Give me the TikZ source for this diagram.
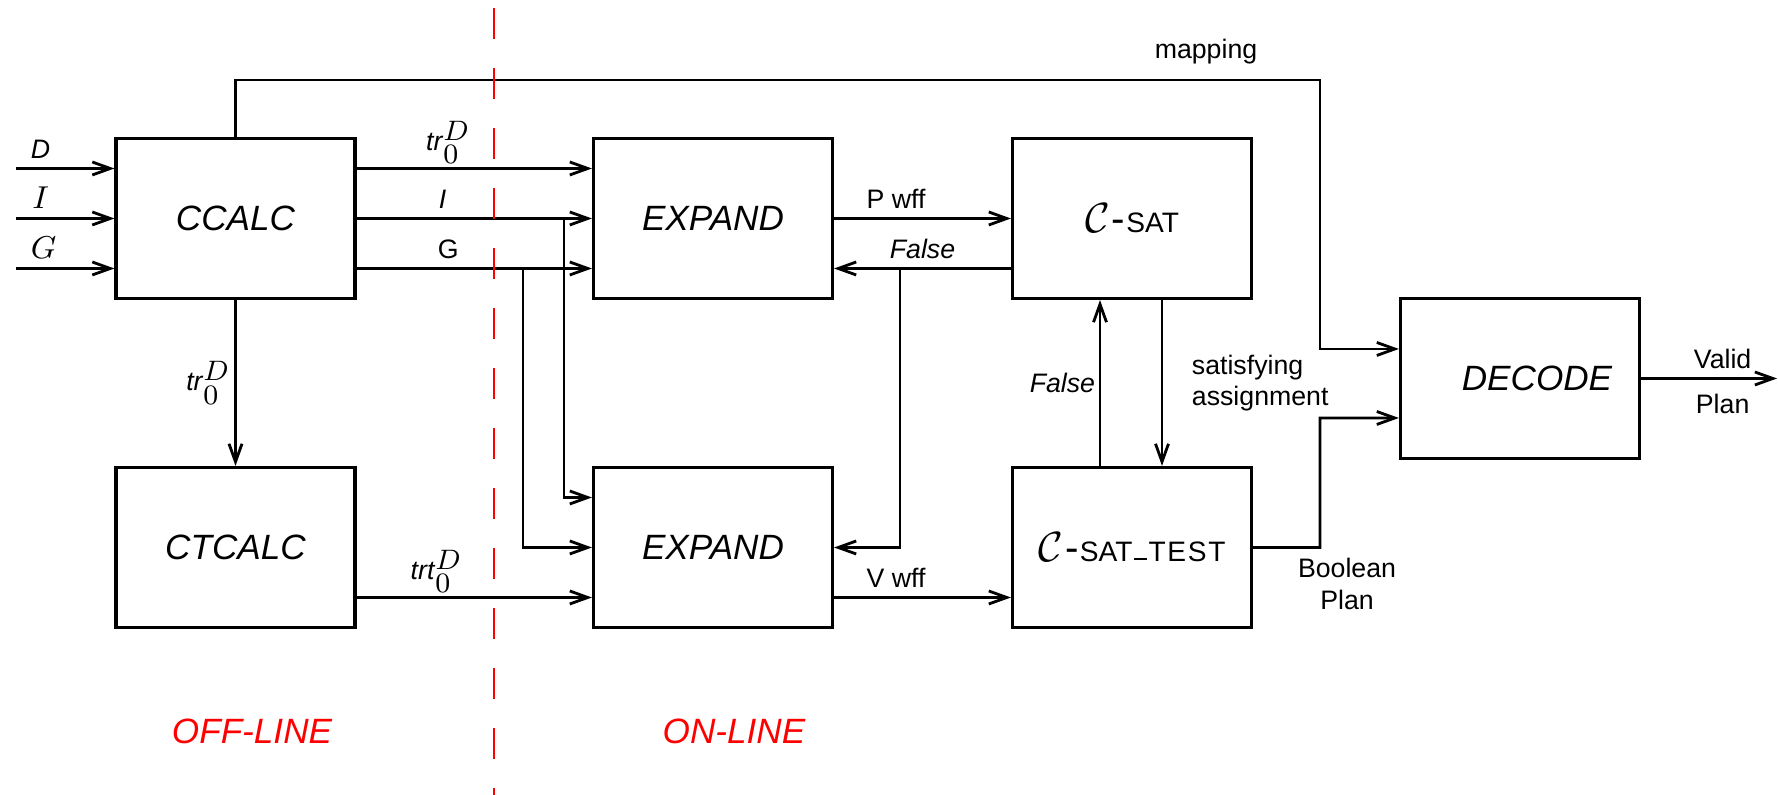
\documentclass[tikz,border=0pt]{standalone}
\usepackage{amsmath}
\usepackage{fontspec}
\setsansfont{Liberation Sans}
\newfontfamily\spacedsans[LetterSpace=6]{Liberation Sans}
\usetikzlibrary{positioning, arrows.meta, calc}
\newcommand{\lblfont}{\sffamily\fontsize{7.6}{9}\selectfont}
\newcommand{\boxfont}{\sffamily\itshape\fontsize{10}{12}\selectfont}
\newcommand{\satname}[1]{\upshape{\fontsize{11.5}{12}\selectfont$\mathcal{C}$\kern0.05em-\kern0.03em}{\fontsize{8}{9}\selectfont #1}}
\tikzset{
->, % every connector is directed
>={Straight Barb[length=1.8mm, width=1.3mm]}, % open barbs
node distance=4.775cm, % spacing of the first two columns
module/.style={draw, line width=0.9pt, minimum width=2.39cm, minimum height=1.6cm, font=\boxfont}, % the boxes
lbl/.style={font=\lblfont, inner sep=1pt}, % texts on the connectors
phase/.style={font=\sffamily\itshape\fontsize{10}{12}\selectfont, text=red}, % off-line / on-line
}
\begin{document}
\begin{tikzpicture}[line width=0.8pt]
    \useasboundingbox (0,0) rectangle (17.78,7.95);
    % boxes
    \node[module] (ccalc) at (2.355,5.765) {CCALC};
    \node[module, right of=ccalc] (expand1) {EXPAND};
    \node[module, node distance=4.19cm, right of=expand1] (csat) {\satname{SAT}};
    \node[module, node distance=3.29cm, below of=ccalc] (ctcalc) {CTCALC};
    \node[module, node distance=3.29cm, below of=expand1] (expand2) {EXPAND};
    \node[module, node distance=3.29cm, below of=csat] (csattest) {\satname{SAT\kern0.06em\rule[0.12ex]{0.45em}{0.13ex}\kern0.06em{\spacedsans TEST}}};
    \node[module, node distance=3.88cm, right of=csat, yshift=-1.6cm] (decode) {\hspace*{3.4mm}DECODE};
    % free ends and corners
    \coordinate (inD) at (0.16,6.265);
    \coordinate (inI) at (0.16,5.765);
    \coordinate (inG) at (0.16,5.265);
    \coordinate (ifork) at (5.64,5.765);
    \coordinate (gfork) at (5.23,5.265);
    \coordinate (ffork) at (9.00,5.265);
    \coordinate (mapcorner) at (13.2,7.15);
    \coordinate (boolcorner) at (13.2,3.77);
    \coordinate (planout) at (17.77,4.165);
    \coordinate (divtop) at (4.94,7.87);
    \coordinate (divbot) at (4.94,0);
    % inputs
    \draw (inD) -- (inD -| ccalc.west) node[lbl, pos=.25, above=1.5pt] {\textit{D}};
    \draw (inI) -- (ccalc.west) node[lbl, pos=.25, above=1.5pt] {\fontsize{9}{10}\selectfont$I$};
    \draw (inG) -- (inG -| ccalc.west) node[lbl, pos=.28, above=1.5pt] {\fontsize{9}{10}\selectfont$G$};
    % off-line part
    \draw ([yshift=5mm]ccalc.east) -- ([yshift=5mm]expand1.west) node[lbl, pos=.39, above] {\textit{tr}$_{\textstyle 0}^{\textstyle D}$};
    \draw (ccalc.east) -- (expand1.west) node[lbl, pos=.365, above=1.5pt] {\textit{I}};
    \draw ([yshift=-5mm]ccalc.east) -- ([yshift=-5mm]expand1.west) node[lbl, pos=.39, above=1.5pt] {G};
    \draw (ifork) |- ([yshift=5mm]expand2.west);
    \draw (gfork) |- (expand2.west);
    \draw (ccalc.south) -- (ctcalc.north) node[lbl, midway, left] {\textit{tr}$_{\textstyle 0}^{\textstyle D}$};
    \draw ([yshift=-5mm]ctcalc.east) -- ([yshift=-5mm]expand2.west) node[lbl, pos=.34, above] {\textit{trt}$_{\textstyle 0}^{\textstyle D}$};
    % on-line part
    \draw (expand1) -- (csat) node[lbl, pos=.35, above=1.5pt] {P wff};
    \draw ([yshift=-5mm]csat.west) -- ([yshift=-5mm]expand1.east) node[lbl, midway, above=1.5pt] {\textit{False}};
    \draw (ffork) |- (expand2.east);
    \draw ([yshift=-5mm]expand2.east) -- ([yshift=-5mm]csattest.west) node[lbl, pos=.35, above=1.5pt] {V wff};
    \draw ([xshift=-3.2mm]csattest.north) -- ([xshift=-3.2mm]csat.south) node[lbl, midway, left] {\textit{False}};
    \draw ([xshift=3mm]csat.south) -- ([xshift=3mm]csattest.north) node[lbl, midway, right=2.5mm, align=left] {satisfying\\assignment};
    % decoding
    \draw (ccalc.north) |- (mapcorner) |- ([yshift=2.95mm]decode.west);
    \node[lbl] (maplbl) at (12.06,7.43) {mapping};
    \draw (csattest.east) -| (boolcorner) -- ([yshift=-3.95mm]decode.west);
    \node[lbl, align=center] (boollbl) at (13.47,2.11) {Boolean\\Plan};
    \draw (decode.east) -- (planout) node[lbl, pos=.6, above=1.5pt] {Valid} node[lbl, pos=.6, below=3pt] {Plan};
    % off-line / on-line border
    \draw[-, red, line width=0.6pt, dash pattern=on 3.1mm off 2.9mm] (divtop) -- (divbot);
    \node[phase] (offline) at (2.52,0.64) {OFF-LINE};
    \node[phase] (online) at (7.34,0.64) {ON-LINE};
\end{tikzpicture}
\end{document}
